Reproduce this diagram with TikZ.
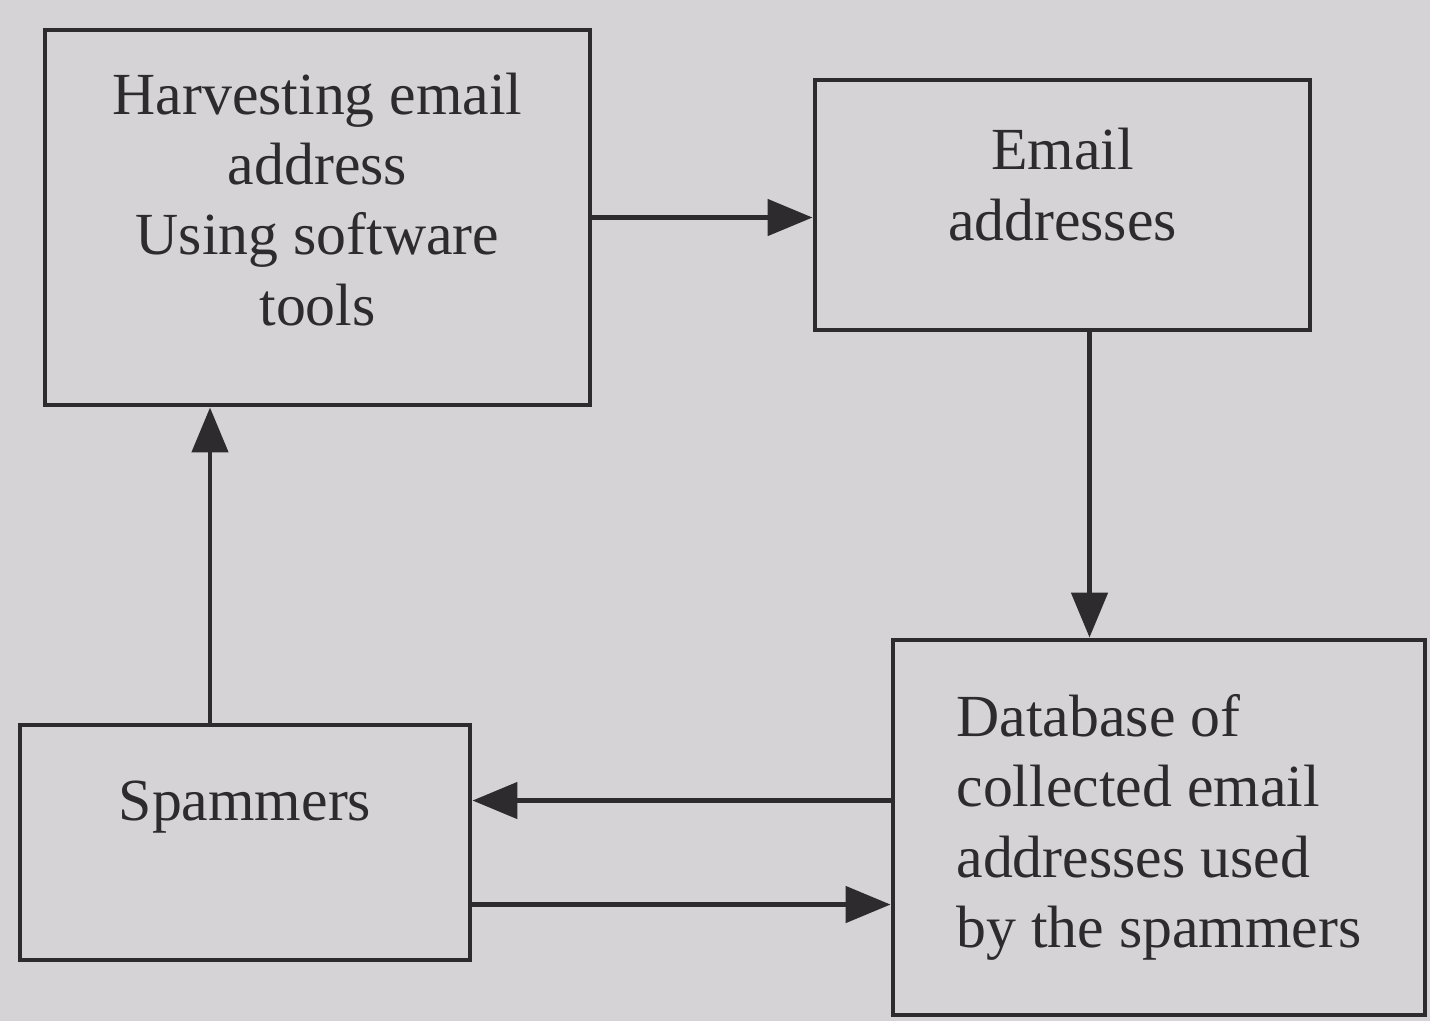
\documentclass[tikz,border=0pt]{standalone}
\usepackage{fontspec}
\setmainfont{Liberation Serif}
\usetikzlibrary{arrows.meta}
\definecolor{paper}{RGB}{214,211,214}
\definecolor{ink}{RGB}{45,43,45}

\begin{document}
\begin{tikzpicture}[
    box/.style={draw=ink, line width=1.4pt, text=ink, align=center,
      font=\fontsize{17}{20}\selectfont, inner sep=0pt},
    arr/.style={-{Triangle[length=4.5mm, width=3.6mm]}, draw=ink, line width=1.4pt}
  ]
  \fill[paper] (0, 0) rectangle (14.3, -10.21);
  \useasboundingbox (0, 0) rectangle (14.3, -10.21);

  \node[box, minimum width=5.45cm, text height=2.95cm, text depth=0.8cm] (harvest) at (3.175, -2.175)
    {Harvesting email\\address\\Using software\\tools};
  \node[box, minimum width=4.95cm, text height=1.6cm, text depth=0.9cm] (email) at (10.625, -2.05)
    {Email\\addresses};
  \node[box, align=left, minimum width=5.32cm, minimum height=3.75cm] (db) at (11.59, -8.275)
    {Database of\\collected email\\addresses used\\by the spammers};
  \node[box, minimum width=4.5cm, text height=0.95cm, text depth=1.4cm] (spam) at (2.45, -8.425)
    {Spammers};

  \draw[arr] (harvest.east) -- (harvest.east -| email.west);
  \draw[arr] ([xshift=0.27cm]email.south) -- ([xshift=0.27cm]email.south |- db.north);
  \draw[arr] ([yshift=0.27cm]db.west) -- ([yshift=0.27cm]db.west -| spam.east);
  \draw[arr] ([yshift=-0.62cm]spam.east) -- ([yshift=-0.62cm]spam.east -| db.west);
  \draw[arr] ([xshift=-0.35cm]spam.north) -- ([xshift=-0.35cm]spam.north |- harvest.south);
\end{tikzpicture}
\end{document}
